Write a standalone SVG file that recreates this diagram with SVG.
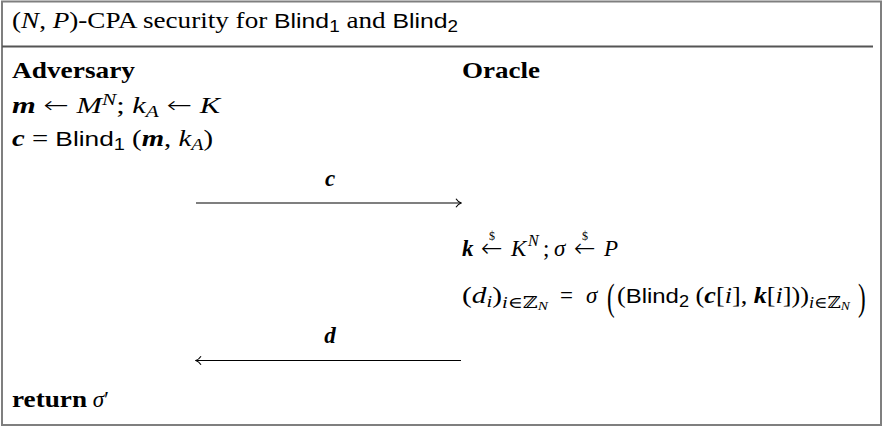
<svg xmlns="http://www.w3.org/2000/svg" width="884" height="427" viewBox="0 0 884 427">
<style>
.t { font-family: "Liberation Serif", "DejaVu Serif", serif; font-size: 23px; fill: #000; }
.i { font-style: italic; }
.b { font-weight: bold; }
.bi { font-style: italic; font-weight: bold; }
.sf { font-family: "Liberation Sans", "DejaVu Sans", sans-serif; font-size: 21px; font-style: normal; font-weight: normal; }
.sub { font-size: 16px; }
.ssub { font-size: 12px; }
.ar { font-family: "DejaVu Sans", sans-serif; font-style: normal; font-weight: 200; }
.arw { font-size: 26px; }
.cal { font-style: italic; }
.dol { font-size: 12px; font-style: normal; font-weight: normal; }
.frame { fill: #fff; stroke: #7f7f7f; stroke-width: 2; }
.rule { stroke: #555; stroke-width: 2; }
.msg { stroke: #000; stroke-width: 1.2; fill: none; }
</style>
<defs>
<marker id="ah" viewBox="0 0 10 10" refX="9" refY="5" markerWidth="10" markerHeight="10" markerUnits="userSpaceOnUse" orient="auto">
<path d="M4,0.8 Q6,4 9.2,5 Q6,6 4,9.2" fill="none" stroke="#000" stroke-width="1.1"/>
</marker>
</defs>
<g id="frame">
<rect class="frame" x="2" y="1.5" width="879" height="423.5"/>
<line class="rule" x1="2" y1="46.5" x2="873" y2="46.5"/>
</g>
<g id="title">
<text class="t" x="12" y="28" textLength="446" lengthAdjust="spacingAndGlyphs">(<tspan class="i">N</tspan>, <tspan class="cal">P</tspan>)-CPA security for <tspan class="sf">Blind</tspan><tspan class="sf sub" dy="4">1</tspan><tspan dy="-4"> and </tspan><tspan class="sf">Blind</tspan><tspan class="sf sub" dy="4">2</tspan></text>
</g>
<g id="adversary">
<text class="t b" x="12" y="78" textLength="123" lengthAdjust="spacingAndGlyphs">Adversary</text>
</g>
<g id="oracle">
<text class="t b" x="462" y="78" textLength="78" lengthAdjust="spacingAndGlyphs">Oracle</text>
</g>
<g id="adv-sample">
<text class="t" x="12" y="113" textLength="208" lengthAdjust="spacingAndGlyphs"><tspan class="bi">m</tspan> <tspan class="ar">←</tspan> <tspan class="cal">M</tspan><tspan class="i sub" dy="-8">N</tspan><tspan dy="8">; </tspan><tspan class="i">k</tspan><tspan class="cal sub" dy="4">A</tspan><tspan dy="-4"> </tspan><tspan class="ar">←</tspan> <tspan class="cal">K</tspan></text>
</g>
<g id="adv-blind">
<text class="t" x="12" y="146" textLength="201" lengthAdjust="spacingAndGlyphs"><tspan class="bi">c</tspan> = <tspan class="sf">Blind</tspan><tspan class="sf sub" dy="4">1</tspan><tspan dy="-4"> (</tspan><tspan class="bi">m</tspan>, <tspan class="i">k</tspan><tspan class="cal sub" dy="4">A</tspan><tspan dy="-4">)</tspan></text>
</g>
<g id="oracle-sample">
<text class="t" y="256"><tspan class="bi" x="462" y="256">k</tspan><tspan class="ar arw" x="481" y="257">←</tspan><tspan class="dol" x="489" y="240">$</tspan><tspan class="cal" x="511" y="256">K</tspan><tspan class="i sub" x="528" y="246">N</tspan><tspan x="543" y="256">;</tspan><tspan class="i" x="554" y="256">σ</tspan><tspan class="ar arw" x="574" y="257">←</tspan><tspan class="dol" x="582" y="240">$</tspan><tspan class="cal" x="604" y="256">P</tspan></text>
</g>
<g id="oracle-blind">
<text class="t" x="462" y="303" textLength="86" lengthAdjust="spacingAndGlyphs">(<tspan class="i">d</tspan><tspan class="i sub" dy="4">i</tspan><tspan dy="-4">)</tspan><tspan class="sub" dy="5"><tspan class="i">i</tspan>∈ℤ</tspan><tspan class="i ssub" dy="2">N</tspan></text>
<text class="t" x="560" y="303">=</text>
<text class="t i" x="586" y="303">σ</text>
<text class="t" transform="translate(607,310) scale(1,1.68)">(</text>
<text class="t" x="617" y="303" textLength="233" lengthAdjust="spacingAndGlyphs">(<tspan class="sf">Blind</tspan><tspan class="sf sub" dy="4">2</tspan><tspan dy="-4"> (</tspan><tspan class="bi">c</tspan>[<tspan class="i">i</tspan>], <tspan class="bi">k</tspan>[<tspan class="i">i</tspan>]))<tspan class="sub" dy="5"><tspan class="i">i</tspan>∈ℤ</tspan><tspan class="i ssub" dy="2">N</tspan></text>
<text class="t" transform="translate(858,310) scale(1,1.68)">)</text>
</g>
<g id="connectors">
<line class="msg" x1="196" y1="203" x2="461" y2="203" marker-end="url(#ah)"/>
<text class="t bi" x="330" y="186" text-anchor="middle">c</text>
<line class="msg" x1="461" y1="360.5" x2="196" y2="360.5" marker-end="url(#ah)"/>
<text class="t bi" x="330" y="343" text-anchor="middle">d</text>
</g>
<g id="adv-return">
<text class="t" x="12" y="407"><tspan class="b" textLength="75" lengthAdjust="spacingAndGlyphs">return</tspan> <tspan class="i">σ</tspan>′</text>
</g>
</svg>
